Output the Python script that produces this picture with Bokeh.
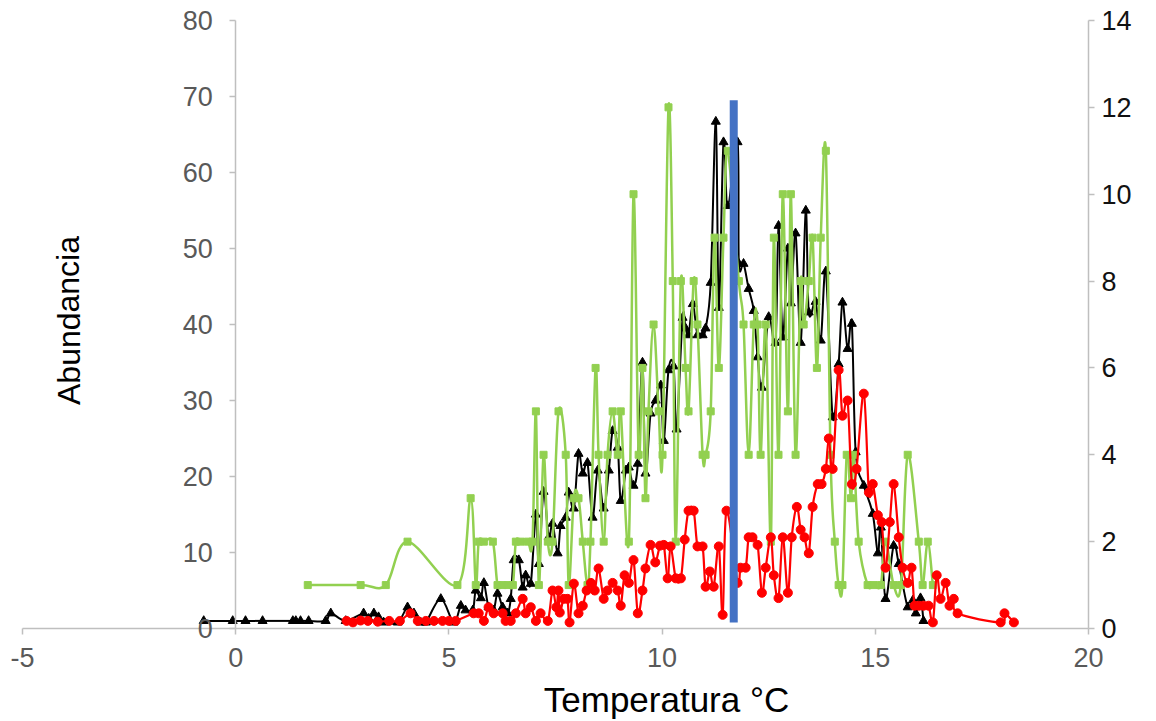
from bokeh.plotting import figure
from bokeh.models import Range1d, LinearAxis, SingleIntervalTicker, Label
from bokeh.embed import file_html
from bokeh.resources import INLINE

# ---- data ----
black_x = [-0.75, -0.07, 0.23, 0.63, 1.34, 1.41, 1.52, 1.71, 2.11, 2.23, 2.58, 3.00, 3.12, 3.24, 3.35, 3.47, 3.80,
           4.03, 4.18, 4.34, 4.46, 4.81, 5.11, 5.28, 5.39, 5.56, 5.63, 5.75, 5.82, 5.93, 6.05, 6.14, 6.26, 6.38,
           6.45, 6.52, 6.64, 6.73, 6.80, 6.92, 7.04, 7.11, 7.22, 7.34, 7.43, 7.55, 7.62, 7.74, 7.81, 7.93, 8.04,
           8.14, 8.25, 8.37, 8.49, 8.63, 8.75, 8.84, 8.96, 9.03, 9.15, 9.22, 9.33, 9.43, 9.54, 9.61, 9.73, 9.85,
           9.97, 10.04, 10.15, 10.27, 10.34, 10.48, 10.55, 10.62, 10.72, 10.83, 10.95, 11.02, 11.14, 11.26, 11.33,
           11.44, 11.54, 11.77, 11.80, 11.91, 12.03, 12.15, 12.24, 12.34, 12.50, 12.66, 12.73, 12.83, 12.95, 13.02,
           13.13, 13.25, 13.37, 13.44, 13.60, 13.72, 13.84, 14.00, 14.14, 14.23, 14.35, 14.45, 14.54, 14.73, 14.94,
           15.06, 15.13, 15.24, 15.43, 15.55, 15.76, 15.88, 15.95, 16.06, 16.13]
black_y = [1, 1, 1, 1, 1, 1, 1, 1, 1, 2, 1, 2, 1.3, 2, 1.5, 0.8, 0.8, 2.8, 2, 0.8, 0.8, 3.9, 0.8, 3, 2.4, 2.4, 5,
           4, 6, 2.8, 2.4, 4.6, 2.8, 2, 3.9, 9, 9, 5.4, 7, 5.9, 15, 8.5, 18, 12, 13.8, 9.9, 13.5, 14.6, 17.9, 15.8,
           23, 20.4, 21.8, 14.6, 20.8, 15.8, 20.8, 26, 23.8, 16.8, 20.8, 21.2, 18.8, 21.7, 35, 20.4, 28.3, 30, 32,
           24.7, 34, 34.5, 26.2, 40.9, 39.5, 38.6, 42.7, 38.6, 38.6, 39.5, 45.5, 66.7, 42.2, 64, 55.6, 64, 48, 48,
           44.7, 41.8, 35.7, 31.7, 41, 37.6, 53, 38.3, 50, 42.8, 52, 37.6, 55, 41.6, 43, 37.9, 47, 27.8, 34.8, 42.9,
           36.8, 40.1, 23.2, 18.8, 15.1, 9.9, 13.3, 3.9, 10.9, 8.5, 2.8, 3.7, 2, 4, 1]

red_x = [2.60, 2.75, 2.93, 3.10, 3.33, 3.60, 3.85, 4.10, 4.27, 4.46, 4.65, 4.85, 5.00, 5.16, 5.58, 5.70, 5.82, 5.93,
         6.05, 6.26, 6.33, 6.45, 6.57, 6.73, 6.80, 6.92, 7.04, 7.15, 7.32, 7.43, 7.52, 7.57, 7.60, 7.69, 7.78, 7.83,
         7.93, 8.04, 8.14, 8.23, 8.33, 8.42, 8.51, 8.63, 8.72, 8.84, 8.96, 9.03, 9.12, 9.22, 9.33, 9.43, 9.54, 9.61,
         9.73, 9.84, 9.95, 10.04, 10.13, 10.20, 10.32, 10.44, 10.53, 10.62, 10.74, 10.83, 10.95, 11.02, 11.12, 11.21,
         11.33, 11.42, 11.51, 11.77, 11.84, 11.96, 12.03, 12.12, 12.24, 12.34, 12.43, 12.55, 12.62, 12.73, 12.83,
         12.95, 13.04, 13.16, 13.25, 13.34, 13.44, 13.53, 13.65, 13.74, 13.84, 13.91, 14.00, 14.14, 14.23, 14.35,
         14.45, 14.56, 14.73, 14.85, 14.94, 15.06, 15.15, 15.24, 15.34, 15.43, 15.55, 15.64, 15.76, 15.85, 15.92,
         16.02, 16.13, 16.25, 16.35, 16.44, 16.53, 16.65, 16.74, 16.84, 16.93, 17.94, 18.03, 18.25]
red_y = [1, 0.8, 1.05, 1, 0.9, 1, 1, 2, 1, 1, 1, 1, 1, 1, 2, 2, 1, 2.8, 2, 2, 1, 1, 2, 3.9, 2, 2.8, 1, 2, 1, 5, 2.8,
         5, 2.1, 3.9, 3.9, 0.8, 5.9, 2, 3, 5, 6, 5, 7.9, 3.9, 5, 6, 5, 3, 7, 6, 9, 2, 5, 7.9, 11, 8.7, 10.9, 11, 6.6,
         10.8, 6.6, 6.6, 11.7, 15.5, 15.5, 10.8, 10.8, 5.5, 7.5, 5.5, 10.8, 1.8, 15.5, 6, 8, 8, 12, 12, 11, 4.7, 8,
         12, 7, 4, 12, 4.7, 12, 16, 13, 12, 9.9, 16, 19, 19, 21, 25, 21, 34, 28, 30, 19, 21, 30.9, 17.9, 19, 14.9,
         14, 8, 14, 19, 12, 8, 6, 8, 3, 3, 3, 3, 0.8, 7, 3.9, 6, 3, 3.9, 2, 0.8, 2, 0.8]

green_x = [1.69, 2.93, 3.52, 4.03, 5.20, 5.51, 5.63, 5.70, 5.82, 6.03, 6.14, 6.26, 6.38, 6.50, 6.57, 6.68, 6.85,
           6.96, 7.04, 7.11, 7.22, 7.32, 7.43, 7.57, 7.74, 7.81, 7.93, 8.04, 8.14, 8.25, 8.32, 8.44, 8.51, 8.63,
           8.72, 8.84, 8.96, 9.03, 9.22, 9.33, 9.45, 9.54, 9.61, 9.68, 9.80, 9.92, 10.01, 10.15, 10.25, 10.32,
           10.44, 10.55, 10.62, 10.74, 10.83, 10.95, 11.02, 11.14, 11.23, 11.33, 11.44, 11.54, 11.80, 11.91, 12.03,
           12.15, 12.24, 12.31, 12.43, 12.55, 12.62, 12.73, 12.83, 12.95, 13.02, 13.13, 13.25, 13.32, 13.44, 13.53,
           13.63, 13.72, 13.84, 13.95, 14.05, 14.14, 14.23, 14.33, 14.43, 14.49, 14.61, 14.82, 14.96, 15.13, 15.24,
           15.43, 15.60, 15.76, 16.02, 16.11, 16.23, 16.35]
green_y = [1, 1, 1, 2, 1, 3, 1, 2, 2, 2, 1, 1, 1, 1, 2, 2, 2, 2, 5, 1, 4, 2, 2, 5, 4, 1, 3, 3, 2, 1, 2, 6, 4, 2, 4,
           5, 4, 5, 2, 10, 4, 6, 3, 5, 7, 5, 4, 12, 8, 2, 8, 6, 5, 8, 7, 4, 4, 5, 9, 6, 9, 11, 8, 7, 4, 7, 7, 4, 7,
           2, 9, 4, 10, 5, 10, 4, 8, 7, 8, 9, 6, 9, 11, 4, 2, 1, 1, 4, 3, 4, 2, 1, 1, 1, 2, 1, 1, 4, 2, 1, 2, 1]

threshold_x = 11.68
threshold_bottom = 0.8
threshold_top = 69.5

x_axis_min, x_axis_max, x_tick_step = -5, 20, 5
left_min, left_max, left_tick_step = 0, 80, 10
right_min, right_max, right_tick_step = 0, 14, 2

x_title = "Temperatura °C"
y_title = "Abundancia"

FONT = "Liberation Sans"
TICK_SIZE = "27px"

# ---- layout: the plotting frame fills the canvas; axes sit at fixed data positions ----
W, H = 1156, 721
PX_X0, PX_X1 = 22, 1088      # canvas x of x=-5 and x=20
PX_Y0, PX_Y1 = 628, 20       # canvas y of y=0 and y=80
sx = (PX_X1 - PX_X0) / (x_axis_max - x_axis_min)
sy = (PX_Y0 - PX_Y1) / (left_max - left_min)
x_lo = x_axis_min - PX_X0 / sx
x_hi = x_axis_max + (W - PX_X1) / sx
y_lo = left_min - (H - PX_Y0) / sy
y_hi = left_max + PX_Y1 / sy
k = (right_max - right_min) / (left_max - left_min)
r_lo, r_hi = right_min + (y_lo - left_min) * k, right_min + (y_hi - left_min) * k


def smooth(xs, ys):
    """Excel-like smoothed line: cubic Bezier pieces through the data points."""
    n = len(xs)
    out = {kk: [] for kk in ("x0", "y0", "x1", "y1", "cx0", "cy0", "cx1", "cy1")}
    for i in range(n - 1):
        a = max(i - 1, 0)
        d = min(i + 2, n - 1)
        out["x0"].append(xs[i]); out["y0"].append(ys[i])
        out["x1"].append(xs[i + 1]); out["y1"].append(ys[i + 1])
        out["cx0"].append(xs[i] + (xs[i + 1] - xs[a]) / 6.0)
        out["cy0"].append(ys[i] + (ys[i + 1] - ys[a]) / 6.0)
        out["cx1"].append(xs[i + 1] - (xs[d] - xs[i]) / 6.0)
        out["cy1"].append(ys[i + 1] - (ys[d] - ys[i]) / 6.0)
    return out


p = figure(width=W, height=H, x_range=Range1d(x_lo, x_hi), y_range=Range1d(y_lo, y_hi),
           output_backend="svg", toolbar_location=None, min_border=0)
p.extra_y_ranges = {"right": Range1d(r_lo, r_hi)}
p.outline_line_color = None
p.xgrid.visible = False
p.ygrid.visible = False
p.background_fill_color = "white"
p.border_fill_color = "white"


def style_axis(ax, label_color, standoff):
    ax.major_label_text_font = FONT
    ax.major_label_text_font_size = TICK_SIZE
    ax.major_label_text_color = label_color
    ax.major_label_standoff = standoff
    ax.axis_line_color = "#BFBFBF"
    ax.axis_line_width = 1.5
    ax.major_tick_line_color = "#BFBFBF"
    ax.major_tick_line_width = 1.5
    ax.major_tick_in = 0
    ax.major_tick_out = 6
    ax.minor_tick_line_color = None


# x axis at y = 0
xa = p.xaxis[0]
xa.fixed_location = 0
xa.bounds = (x_axis_min, x_axis_max)
xa.ticker = SingleIntervalTicker(interval=x_tick_step, num_minor_ticks=0)
xa.major_label_overrides = {x_axis_min: str(x_axis_min)}
style_axis(xa, "#595959", 13)

# left axis at x = 0
ya = p.yaxis[0]
ya.fixed_location = 0
ya.bounds = (left_min, left_max)
ya.ticker = SingleIntervalTicker(interval=left_tick_step, num_minor_ticks=0)
style_axis(ya, "#595959", 17)

# right axis at x = 20
ra = LinearAxis(y_range_name="right", fixed_location=x_axis_max, bounds=(right_min, right_max),
                ticker=SingleIntervalTicker(interval=right_tick_step, num_minor_ticks=0))
style_axis(ra, "#111111", 7)
p.add_layout(ra, "right")

# axis titles, placed like the reference
p.add_layout(Label(x=x_axis_min + (666 - PX_X0) / sx, y=-(699 - PX_Y0) / sy, text=x_title,
                   text_align="center", text_baseline="middle",
                   text_font=FONT, text_font_size="35px", text_color="#000000"))
p.add_layout(Label(x=x_axis_min + (68 - PX_X0) / sx, y=(PX_Y0 - 320) / sy, text=y_title, angle=1.5708,
                   text_align="center", text_baseline="middle",
                   text_font=FONT, text_font_size="32px", text_color="#000000"))

# black series (left axis)
p.bezier(**smooth(black_x, black_y), line_color="#000000", line_width=2)
p.scatter(black_x, black_y, marker="triangle", size=9, color="#000000")

# green series (right axis)
p.bezier(**smooth(green_x, green_y), line_color="#92D050", line_width=2.5, y_range_name="right")
p.scatter(green_x, green_y, marker="square", size=7, color="#92D050", y_range_name="right")

# red series (left axis)
p.bezier(**smooth(red_x, red_y), line_color="#FF0000", line_width=2.2)
p.scatter(red_x, red_y, marker="circle", size=9, color="#FF0000")

# blue threshold line
p.segment(x0=[threshold_x], y0=[threshold_bottom], x1=[threshold_x], y1=[threshold_top],
          line_color="#4472C4", line_width=8)

open("out.html", "w").write(file_html(p, INLINE))
